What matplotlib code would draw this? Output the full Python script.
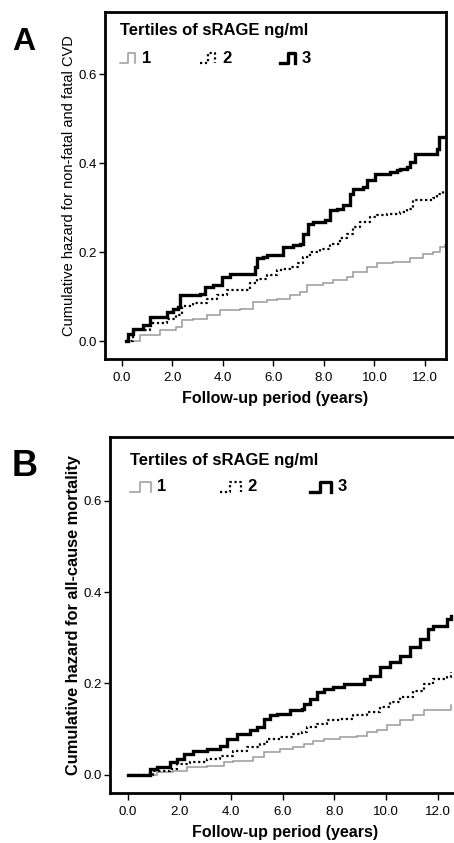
import matplotlib
matplotlib.use('Agg')
import matplotlib.pyplot as plt

plt.rcParams['font.family'] = ['Liberation Sans', 'DejaVu Sans']

# cumulative hazard, panel A (non-fatal and fatal CVD)
a_t1 = [0.18, 0.71, 1.5, 2.16, 2.36, 2.83, 3.35, 3.88, 4.67, 5.2, 5.73, 6.13, 6.65, 7.05, 7.31,
        7.97, 8.37, 8.9, 9.16, 9.69, 10.09, 10.75, 11.4, 11.93, 12.33, 12.59, 12.79]
a_h1 = [0.0, 0.013, 0.025, 0.032, 0.047, 0.051, 0.058, 0.07, 0.073, 0.088, 0.092, 0.096, 0.103, 0.111, 0.126,
        0.13, 0.137, 0.145, 0.156, 0.167, 0.175, 0.178, 0.186, 0.197, 0.2, 0.212, 0.216]
a_t2 = [0.18, 0.45, 1.1, 1.77, 2.16, 2.36, 2.83, 3.35, 3.75, 4.15, 4.94, 5.07, 5.33, 5.73, 6.13, 6.39,
        6.65, 6.98, 7.18, 7.45, 7.84, 8.24, 8.63, 8.9, 9.16, 9.43, 9.82, 10.09, 10.48, 11.0, 11.27,
        11.54, 12.07, 12.33, 12.46, 12.73]
a_h2 = [0.0, 0.025, 0.04, 0.051, 0.058, 0.079, 0.085, 0.096, 0.103, 0.115, 0.115, 0.13, 0.141, 0.148, 0.16, 0.163,
        0.167, 0.175, 0.19, 0.2, 0.208, 0.219, 0.231, 0.242, 0.257, 0.268, 0.279, 0.283, 0.287, 0.29, 0.298,
        0.317, 0.317, 0.321, 0.332, 0.343]
a_t3 = [0.18, 0.25, 0.45, 0.85, 1.1, 1.77, 2.03, 2.23, 2.3, 3.1, 3.3, 3.6, 3.95, 4.28, 4.94, 5.27, 5.33,
        5.6, 5.73, 6.26, 6.39, 6.79, 7.05, 7.18, 7.38, 7.58, 8.04, 8.24, 8.5, 8.77, 9.03, 9.16, 9.56,
        9.69, 10.02, 10.6, 10.88, 11.0, 11.27, 11.4, 11.6, 12.33, 12.46, 12.57, 12.79]
a_h3 = [0.0, 0.017, 0.028, 0.036, 0.055, 0.066, 0.073, 0.077, 0.103, 0.107, 0.122, 0.126, 0.145, 0.152, 0.152,
        0.167, 0.186, 0.19, 0.193, 0.193, 0.212, 0.216, 0.219, 0.242, 0.264, 0.268, 0.272, 0.294, 0.298,
        0.306, 0.332, 0.343, 0.347, 0.362, 0.377, 0.38, 0.384, 0.388, 0.392, 0.403, 0.422, 0.422, 0.433,
        0.459, 0.459]

# cumulative hazard, panel B (all-cause mortality)
b_t1 = [0.0, 0.72, 1.12, 1.76, 2.27, 3.05, 3.7, 4.08, 4.86, 5.25, 5.89, 6.41, 6.8, 7.18, 7.58, 8.22, 8.87,
        9.25, 9.64, 10.03, 10.54, 11.06, 11.45, 12.29, 12.51]
b_h1 = [0.0, 0.0, 0.006, 0.009, 0.017, 0.02, 0.028, 0.031, 0.039, 0.05, 0.057, 0.06, 0.068, 0.075, 0.079,
        0.082, 0.086, 0.093, 0.097, 0.108, 0.119, 0.13, 0.141, 0.141, 0.152]
b_t2 = [0.0, 0.72, 0.98, 1.63, 1.89, 2.41, 3.05, 3.57, 4.08, 4.6, 5.12, 5.37, 5.89, 6.41, 6.73, 6.93, 7.32,
        7.7, 8.22, 8.73, 9.25, 9.77, 10.16, 10.54, 11.06, 11.45, 11.83, 12.35, 12.51]
b_h2 = [0.0, 0.0, 0.009, 0.013, 0.024, 0.028, 0.035, 0.042, 0.053, 0.06, 0.068, 0.079, 0.082, 0.09, 0.093,
        0.104, 0.112, 0.119, 0.122, 0.13, 0.137, 0.148, 0.159, 0.17, 0.184, 0.199, 0.21, 0.214, 0.225]
b_t3 = [0.0, 0.72, 0.86, 1.12, 1.56, 1.63, 1.89, 2.15, 2.53, 3.05, 3.57, 3.82, 4.22, 4.73, 4.99, 5.25, 5.51,
        5.77, 6.28, 6.73, 6.8, 7.06, 7.32, 7.58, 7.96, 8.35, 8.73, 9.13, 9.39, 9.77, 10.16, 10.54, 10.94,
        11.32, 11.64, 11.83, 12.29, 12.35, 12.51]
b_h3 = [0.0, 0.0, 0.013, 0.017, 0.017, 0.028, 0.035, 0.046, 0.053, 0.057, 0.064, 0.079, 0.09, 0.097, 0.104,
        0.122, 0.13, 0.133, 0.141, 0.144, 0.155, 0.166, 0.181, 0.188, 0.192, 0.199, 0.199, 0.21, 0.217,
        0.235, 0.246, 0.261, 0.279, 0.297, 0.319, 0.327, 0.327, 0.341, 0.348]

xticks = [0, 2, 4, 6, 8, 10, 12]
xticklabels = ['0.0', '2.0', '4.0', '6.0', '8.0', '10.0', '12.0']
yticks = [0.0, 0.2, 0.4, 0.6]
yticklabels = ['0.0', '0.2', '0.4', '0.6']
legend_title = 'Tertiles of sRAGE ng/ml'
groups = ['1', '2', '3']

styles = [dict(color='#9a9a9a', lw=1.1, ls='-'),
          dict(color='black', lw=1.6, ls=(0, (1, 1.2))),
          dict(color='black', lw=2.4, ls='-')]


def draw_panel(ax, curves, ylabel, ybold, ysize, leg_x, leg_y, row_y, leg_dx, gw, gh, xlim):
    for (t, h), st in zip(curves, styles):
        ax.plot(t, h, drawstyle='steps-post', solid_joinstyle='miter', **st)
    ax.set_xlim(xlim)
    ax.set_ylim(-0.04, 0.74)
    ax.set_xticks(xticks)
    ax.set_xticklabels(xticklabels)
    ax.set_yticks(yticks)
    ax.set_yticklabels(yticklabels)
    ax.tick_params(axis='x', direction='out', length=5, width=1, labelsize=9.5, pad=4)
    ax.tick_params(axis='y', direction='out', length=4.5, width=1, labelsize=9.5, pad=1.5)
    for sp in ax.spines.values():
        sp.set_linewidth(2)
    ax.set_xlabel('Follow-up period (years)', fontsize=11.5, fontweight='bold', labelpad=5.5)
    ax.set_ylabel(ylabel, fontsize=ysize, fontweight='bold' if ybold else 'normal', labelpad=2)
    # legend drawn by hand: title row plus step glyphs
    ax.text(leg_x, leg_y, legend_title, transform=ax.transAxes, fontsize=12,
            fontweight='bold', va='center', ha='left')
    for i, (g, st) in enumerate(zip(groups, styles)):
        x0 = leg_x + i * leg_dx
        gx = [x0, x0 + gw * 0.5, x0 + gw * 0.5, x0 + gw, x0 + gw]
        gy = [row_y - gh / 2, row_y - gh / 2, row_y + gh / 2, row_y + gh / 2, row_y - gh / 2]
        ax.plot(gx, gy, transform=ax.transAxes, clip_on=False, **st)
        ax.text(x0 + gw + 0.02, row_y, g, transform=ax.transAxes, fontsize=12,
                fontweight='bold', va='center', ha='left')


fig = plt.figure(figsize=(4.54, 8.43), dpi=100)
axA = fig.add_axes([0.2313, 0.5741, 0.751, 0.4116])
axB = fig.add_axes([0.2423, 0.0593, 0.769, 0.4223])

draw_panel(axA, [(a_t1, a_h1), (a_t2, a_h2), (a_t3, a_h3)],
           'Cumulative hazard for non-fatal and fatal CVD', False, 10.5,
           0.044, 0.948, 0.867, 0.235, 0.044, 0.029, (-0.67, 12.83))
draw_panel(axB, [(b_t1, b_h1), (b_t2, b_h2), (b_t3, b_h3)],
           'Cumulative hazard for all-cause mortality', True, 11.8,
           0.056, 0.935, 0.86, 0.258, 0.06, 0.03, (-0.70, 12.83))

fig.text(24 / 454, 1 - 42 / 843, 'A', fontsize=23, fontweight='bold', ha='center', va='center')
fig.text(25 / 454, 1 - 466 / 843, 'B', fontsize=26, fontweight='bold', ha='center', va='center')

fig.savefig('out.png', dpi=100)
